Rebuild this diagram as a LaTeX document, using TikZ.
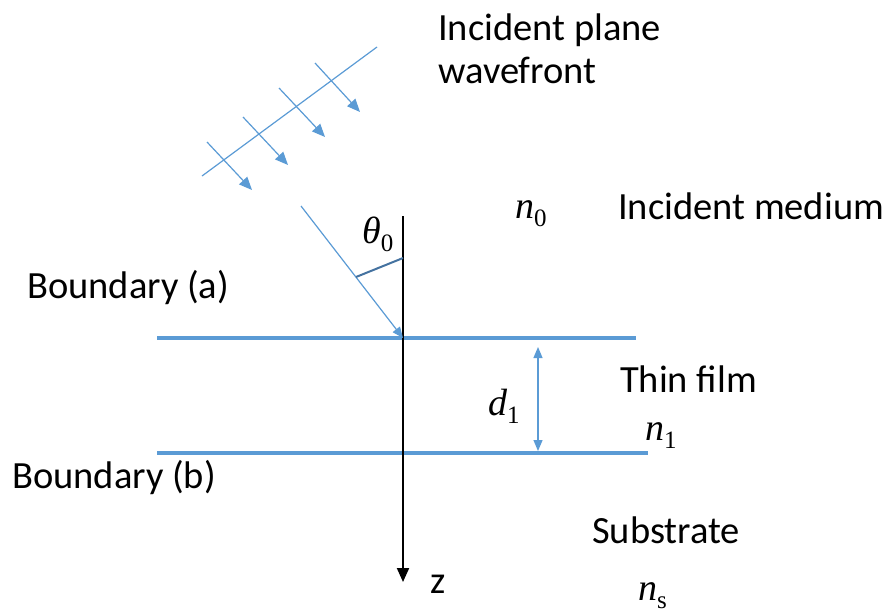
\documentclass[tikz,border=0pt]{standalone}
\usepackage{fontspec}
\setmainfont{Carlito}
\newfontfamily\tms{Liberation Serif}
\usetikzlibrary{arrows.meta}
\definecolor{lb}{RGB}{91,155,213}
\definecolor{db}{RGB}{68,114,160}
\newcommand\msub[2]{#1\raisebox{-8pt}{\upshape\fontsize{25}{25}\selectfont #2}}
\begin{document}
\begin{tikzpicture}[x=1pt,y=-1pt,
  lbl/.style={anchor=base west, inner sep=0pt, font=\fontsize{38.5}{44}\selectfont},
  mth/.style={anchor=base west, inner sep=0pt, font=\tms\itshape\fontsize{38}{44}\selectfont},
  bnd/.style={draw=lb, line width=4pt},
  thin/.style={draw=lb, line width=1.2pt},
  wtip/.style={-{Triangle[length=13pt,width=11pt]}},
  rtip/.style={-{Triangle[length=11pt,width=9pt]}}]
\useasboundingbox (0,0) rectangle (890,614);
% boundaries
\coordinate (a1) at (157,338); \coordinate (a2) at (636,338);
\coordinate (b1) at (157,453); \coordinate (b2) at (648,453);
\draw[bnd] (a1) -- (a2);
\draw[bnd] (b1) -- (b2);
% z axis
\coordinate (zt) at (403,216); \coordinate (zb) at (403,582);
\draw[line width=2pt, -{Triangle[length=14pt,width=12pt]}] (zt) -- (zb);
% wavefront
\coordinate (w1) at (202,176); \coordinate (w2) at (377,47);
\draw[thin] (w1) -- (w2);
\foreach \i/\sx/\sy/\ex/\ey in {1/207/142/252/190, 2/243/117/288/165, 3/279/88/325/137, 4/315/63/360/112}{
  \coordinate (ws\i) at (\sx,\sy); \coordinate (we\i) at (\ex,\ey);
  \draw[thin, wtip, fill=lb] (ws\i) -- (we\i);
}
% incident ray
\coordinate (r0) at (301,206); \coordinate (rh) at (403,338);
\draw[thin, rtip, fill=lb] (r0) -- (rh);
% angle marker
\coordinate (m1) at (356,277); \coordinate (m2) at (403,258);
\draw[db, line width=2pt] (m1) -- (m2);
% d1 arrow
\coordinate (d1t) at (538,347); \coordinate (d1b) at (538,451);
\draw[thin, {Triangle[length=11pt,width=9pt]}-{Triangle[length=11pt,width=9pt]}, fill=lb] (d1t) -- (d1b);
% labels
\node[lbl] (tw1) at (438,40) {Incident plane};
\node[lbl] (tw2) at (438,83) {wavefront};
\node[lbl] (tim) at (618,219) {Incident medium};
\node[lbl] (tba) at (27,298) {Boundary (a)};
\node[lbl] (ttf) at (620,392) {Thin film};
\node[lbl] (tbb) at (12,488) {Boundary (b)};
\node[lbl] (tsu) at (592,543) {Substrate};
\node[lbl] (tz) at (430,593) {z};
% math
\node[mth] (th) at (362,243) {\msub{θ}{0}};
\node[mth] (n0) at (515,218) {\msub{n}{0}};
\node[mth] (d1) at (488,415) {\msub{d}{1}};
\node[mth] (n1) at (645,440) {\msub{n}{1}};
\node[mth] (ns) at (638,600) {\msub{n}{s}};
\end{tikzpicture}
\end{document}
